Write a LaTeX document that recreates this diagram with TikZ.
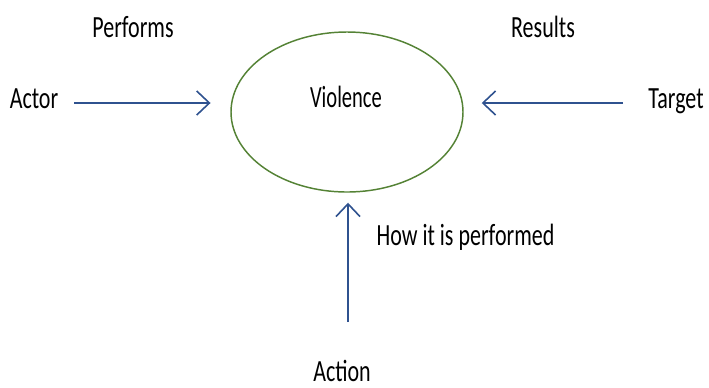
\documentclass[tikz,border=0pt]{standalone}
\usepackage{fontspec}
\setmainfont{Carlito}
\usetikzlibrary{shapes.geometric,arrows.meta}

\definecolor{flowBlue}{RGB}{47,82,143}
\definecolor{ringGreen}{RGB}{84,130,53}
\newcommand{\tallText}[2][1.4]{\scalebox{1}[#1]{#2}}

\tikzset{every picture/.style={line width=1.1pt}}

\begin{document}
\begin{tikzpicture}[x=0.75pt,y=0.75pt,yscale=-1,xscale=1,
  lbl/.style={inner sep=0pt, anchor=base, font=\fontsize{16.5}{20}\selectfont},
  flow/.style={draw=flowBlue, line width=1.2pt, -{Straight Barb[length=9.5pt,width=18pt]}}]
%set diagram to 709 x 387
\useasboundingbox (0,0) rectangle (709,387);

%Shape: Ellipse
\node [ellipse, draw=ringGreen, line width=1.1pt, minimum width=174pt, minimum height=120pt, inner sep=0pt] (violence) at (347,112) {};

% Text Node
\node [lbl, font=\fontsize{15.4}{18}\selectfont] (violenceText) at (346,107) {\tallText[1.5]{Violence}};
% Text Node
\node [lbl] (performs) at (133,37) {\tallText{Performs}};
% Text Node
\node [lbl] (results) at (543,37) {\tallText{Results}};
% Text Node
\node [lbl] (actor) at (34,108) {\tallText{Actor}};
% Text Node
\node [lbl] (target) at (676,108) {\tallText{Target}};
% Text Node
\node [lbl] (how) at (465.5,245) {\tallText{How it is performed}};
% Text Node
\node [lbl] (action) at (342,381) {\tallText{Action}};

%Straight Lines
\coordinate (actorTail) at (74,103);
\draw [flow, shorten >=14.8pt] (actorTail) -- (actorTail -| violence.west);
%Straight Lines
\coordinate (targetTail) at (623,103);
\draw [flow, shorten >=13.5pt] (targetTail) -- (targetTail -| violence.east);
%Straight Lines
\coordinate (actionTail) at (348,322);
\draw [flow, shorten >=7.5pt] (actionTail) -- (actionTail |- violence.south);

\end{tikzpicture}
\end{document}
